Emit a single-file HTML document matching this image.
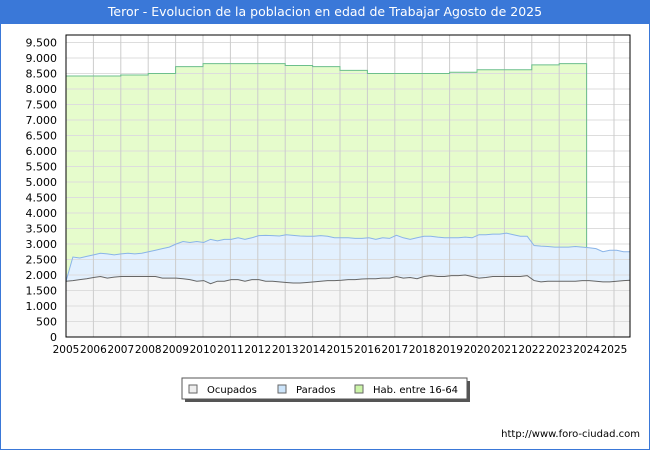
<!DOCTYPE html>
<html><head><meta charset="utf-8"><style>
body{margin:0;width:650px;height:450px;overflow:hidden;background:#fff;font-family:"DejaVu Sans","Liberation Sans",sans-serif}
.frame{position:absolute;left:0;top:0;width:648px;height:448px;border:1px solid #3a78d8}
.title{position:absolute;left:0;top:0;width:650px;height:24px;background:#3a78d8;color:#fff;font-size:12.5px;line-height:24px;text-align:center}
svg text{font-family:"DejaVu Sans","Liberation Sans",sans-serif}
</style></head><body>
<div class="frame"></div>
<div class="title">Teror - Evolucion de la poblacion en edad de Trabajar Agosto de 2025</div>
<svg id="c" width="650" height="450" style="position:absolute;left:0;top:0"></svg>
<script>
const yTicks=[0,500,1000,1500,2000,2500,3000,3500,4000,4500,5000,5500,6000,6500,7000,7500,8000,8500,9000,9500];
const years=[2005,2006,2007,2008,2009,2010,2011,2012,2013,2014,2015,2016,2017,2018,2019,2020,2021,2022,2023,2024,2025];
const habValues=[8420,8420,8450,8500,8720,8820,8820,8820,8760,8720,8600,8500,8500,8500,8540,8620,8620,8780,8820];
const paradosValues=[1800,2580,2550,2600,2650,2700,2680,2650,2680,2700,2680,2700,2750,2800,2850,2900,3000,3080,3050,3080,3050,3150,3100,3150,3150,3200,3150,3200,3270,3280,3270,3260,3300,3280,3260,3250,3250,3270,3250,3200,3200,3200,3180,3180,3200,3150,3200,3180,3280,3200,3150,3200,3250,3250,3220,3200,3200,3200,3220,3200,3300,3300,3320,3320,3350,3300,3250,3250,2950,2930,2920,2900,2900,2900,2920,2900,2880,2850,2750,2800,2800,2750,2750];
const ocupadosValues=[1800,1820,1850,1880,1920,1950,1900,1930,1950,1950,1950,1950,1950,1950,1900,1900,1900,1880,1850,1800,1820,1720,1800,1800,1850,1850,1800,1850,1850,1800,1800,1780,1760,1740,1740,1760,1780,1800,1820,1820,1830,1850,1850,1870,1880,1880,1900,1900,1950,1900,1920,1880,1950,1980,1950,1950,1980,1980,2000,1950,1900,1920,1950,1950,1950,1950,1950,1980,1820,1780,1800,1800,1800,1800,1800,1820,1820,1800,1780,1780,1800,1820,1830];
const L=66,R=630,T=35,B=337;
const X=t=>L+(t-2005)*27.4;
const Y=v=>B-v*0.031;
const s=document.getElementById('c');const NS='http://www.w3.org/2000/svg';
function mk(tag,a,name){const e=document.createElementNS(NS,tag);for(const k in a)e.setAttribute(k,a[k]);


s.appendChild(e);return e;}
mk('rect',{x:L,y:T,width:R-L,height:B-T,fill:'#fff'},'plot-area');
let hp=[];habValues.forEach((v,i)=>{hp.push([X(2005+i),Y(v)]);hp.push([X(2006+i),Y(v)]);});
const endIdx=(2024-2005)*4;
const habPts=hp.concat([[X(2024),Y(paradosValues[endIdx])]]);
const habStr=habPts.map(p=>p.join(',')).join(' ');
mk('polygon',{points:habStr+` ${X(2024)},${B} ${X(2005)},${B}`,fill:'#e6fccc'},'hab-area');
const tq=i=>2005+i*0.25*(20.6/20.5);
const pp=paradosValues.map((v,i)=>[X(tq(i)),Y(v)]);
const pStr=pp.map(p=>p.join(',')).join(' ');
mk('polygon',{points:pStr+` ${X(tq(paradosValues.length-1))},${B} ${X(2005)},${B}`,fill:'#e2f0fe'},'parados-area');
const op=ocupadosValues.map((v,i)=>[X(tq(i)),Y(v)]);
const oStr=op.map(p=>p.join(',')).join(' ');
mk('polygon',{points:oStr+` ${X(tq(ocupadosValues.length-1))},${B} ${X(2005)},${B}`,fill:'#f5f5f5'},'ocupados-area');
yTicks.forEach(v=>{mk('line',{x1:L,x2:R,y1:Y(v),y2:Y(v),stroke:'#ddd','stroke-width':1},'y-gridline');
const t=mk('text',{x:L-9,y:Y(v)+4,'text-anchor':'end','font-size':11,fill:'#000'},'y-tick-label');t.textContent=v.toLocaleString('de-DE');});
years.forEach(y=>{if(y>2005)mk('line',{x1:X(y),x2:X(y),y1:T,y2:B,stroke:'#ccc','stroke-width':1},'x-gridline');
const t=mk('text',{x:X(y),y:B+16,'text-anchor':'middle','font-size':10.5,fill:'#000'},'x-tick-label');t.textContent=y;});
mk('polyline',{points:habStr,fill:'none',stroke:'#6cbf8c','stroke-width':1},'hab-line');
mk('polyline',{points:pStr,fill:'none',stroke:'#8ab4e8','stroke-width':1},'parados-line');
mk('polyline',{points:oStr,fill:'none',stroke:'#666','stroke-width':1},'ocupados-line');
mk('rect',{x:L,y:T,width:R-L,height:B-T,fill:'none',stroke:'#000','stroke-width':1},'plot-border');
mk('rect',{x:185,y:381,width:285,height:21,fill:'#555'},'legend-shadow');
mk('rect',{x:182,y:378,width:285,height:21,fill:'#fff',stroke:'#555'},'legend');
[['Ocupados','#eee',189,207],['Parados','#cde5fb',278,296],['Hab. entre 16-64','#ccf5a8',355,373]].forEach(([n,c,x,tx])=>{
mk('rect',{x:x,y:385,width:8,height:8,fill:c,stroke:'#666'},'legend-swatch');
const t=mk('text',{x:tx,y:393,'font-size':10,fill:'#000'},'legend-entry');t.textContent=n;});
const u=mk('text',{x:640,y:437,'text-anchor':'end','font-size':10,fill:'#000'},'source-url');u.textContent='http://www.foro-ciudad.com';
</script>
</body></html>
